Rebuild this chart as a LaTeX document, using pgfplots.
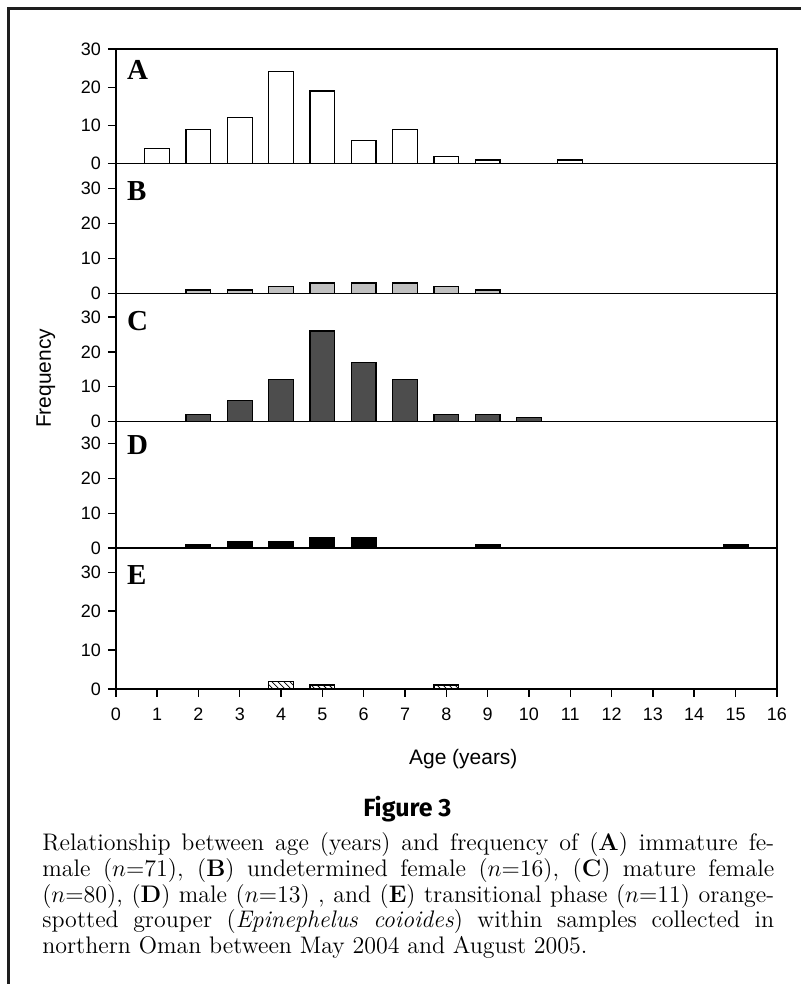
\documentclass[border=0pt]{standalone}
\usepackage{fontspec}
\usepackage{pgfplots}
\pgfplotsset{compat=1.18}
\usetikzlibrary{patterns}
\newfontfamily\arial{Liberation Sans}
\newfontfamily\tnr{Liberation Serif}
\newfontfamily\figfont{Fira Sans}
\definecolor{framegray}{RGB}{30,30,30}
\definecolor{lightbar}{RGB}{192,192,192}
\definecolor{darkbar}{RGB}{77,77,77}

\pgfplotsset{
  panel/.style={
    scale only axis, width=331pt,
    xmin=0, xmax=16, ymin=0,
    ybar, bar width=0.6, bar shift=0pt,
    axis line style={line width=0.7pt},
    ytick={0,10,20,30}, ytick pos=left,
    xtick=\empty,
    tick align=outside, major tick length=4pt,
    tick style={line width=0.7pt, black},
    ticklabel style={font=\arial\fontsize{9}{10}\selectfont},
    /pgf/number format/assume math mode=true,
    every axis plot/.append style={line width=0.6pt},
  },
}
\tikzset{
  letter/.style={anchor=north west, inner sep=0pt,
    font=\tnr\bfseries\fontsize{14.5}{15}\selectfont},
}

\begin{document}
\begin{tikzpicture}
\path (0,0) rectangle (401pt,-492.5pt);

% A: immature female
\begin{axis}[panel, at={(58pt,-82pt)}, anchor=south west, height=57.5pt, ymax=30]
\addplot[draw=black, fill=white] coordinates {(1,4)(2,9)(3,12)(4,24)(5,19)(6,6)(7,9)(8,2)(9,1)(11,1)};
\node[letter, xshift=5.5pt, yshift=-5.5pt] at (rel axis cs:0,1) {A};
\end{axis}

% B: undetermined female
\begin{axis}[panel, at={(58pt,-147pt)}, anchor=south west, height=65pt, ymax=37.1]
\addplot[draw=black, fill=lightbar] coordinates {(2,1)(3,1)(4,2)(5,3)(6,3)(7,3)(8,2)(9,1)};
\node[letter, xshift=5.5pt, yshift=-8.5pt] at (rel axis cs:0,1) {B};
\end{axis}

% C: mature female
\begin{axis}[panel, at={(58pt,-211pt)}, anchor=south west, height=64pt, ymax=36.8]
\addplot[draw=black, fill=darkbar] coordinates {(2,2)(3,6)(4,12)(5,26)(6,17)(7,12)(8,2)(9,2)(10,1)};
\node[letter, xshift=5.5pt, yshift=-8.5pt] at (rel axis cs:0,1) {C};
\end{axis}

% D: male
\begin{axis}[panel, at={(58pt,-274.5pt)}, anchor=south west, height=63.5pt, ymax=36.3]
\addplot[draw=black, fill=black] coordinates {(2,1)(3,2)(4,2)(5,3)(6,3)(9,1)(15,1)};
\node[letter, xshift=5.5pt, yshift=-7pt] at (rel axis cs:0,1) {D};
\end{axis}

% E: transitional phase
\begin{axis}[panel, at={(58pt,-345pt)}, anchor=south west, height=70.5pt, ymax=36.2,
  xtick={0,1,...,16}, xtick pos=left,
  xticklabel style={yshift=-2pt}]
\addplot[draw=black, pattern=north west lines] coordinates {(4,2)(5,1)(8,1)};
\node[letter, xshift=5.5pt, yshift=-8.5pt] at (rel axis cs:0,1) {E};
\end{axis}

\node[rotate=90, font=\arial\fontsize{10.5}{12}\selectfont] at (23pt,-189.5pt) {Frequency};
\node[font=\arial\fontsize{10.5}{12}\selectfont] at (232pt,-380pt) {Age (years)};
\node[font=\figfont\bfseries\fontsize{12.5}{14}\selectfont] at (204pt,-405pt) {Figure 3};

\node[anchor=north west, inner sep=0pt, align=left,
  font=\fontsize{12}{13}\selectfont] at (21pt,-416.5pt) {%
\makebox[366.5pt][s]{Relationship between age (years) and frequency of (\textbf{A}) immature fe-}\\
\makebox[366.5pt][s]{male ($n$=71), (\textbf{B}) undetermined female ($n$=16), (\textbf{C}) mature female}\\
\makebox[366.5pt][s]{($n$=80), (\textbf{D}) male ($n$=13) , and (\textbf{E}) transitional phase ($n$=11) orange-}\\
\makebox[366.5pt][s]{spotted grouper (\textit{Epinephelus coioides}) within samples collected in}\\
northern Oman between May 2004 and August 2005.};

\draw[framegray, line width=1.5pt] (401pt,-4.5pt) -- (4.5pt,-4.5pt) -- (4.5pt,-492.5pt);
\end{tikzpicture}
\end{document}
